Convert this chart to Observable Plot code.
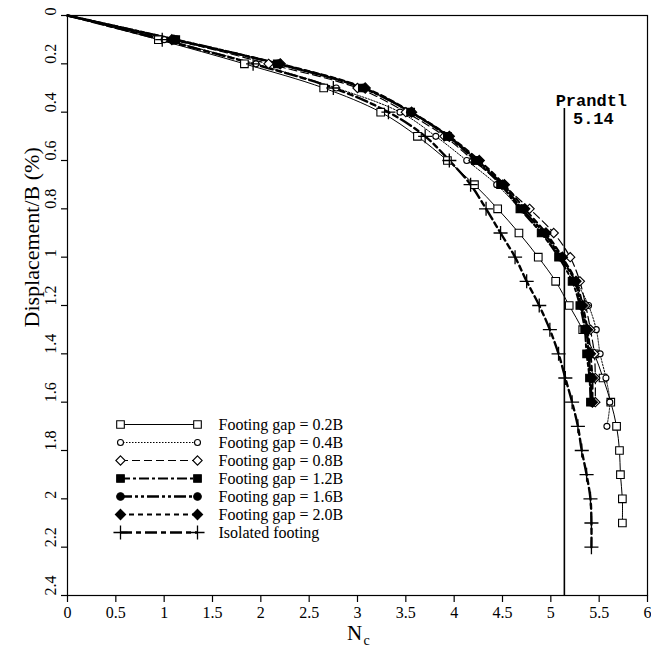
<!DOCTYPE html>
<html>
<head>
<meta charset="utf-8">
<script src="https://cdn.jsdelivr.net/npm/d3@7"></script>
<script src="https://cdn.jsdelivr.net/npm/@observablehq/plot@0.6"></script>
<style>
  html, body { margin: 0; padding: 0; background: #fff; }
  #wrap { position: relative; width: 651px; height: 649px; }
  #legend { position: absolute; left: 110px; top: 413px; }
</style>
</head>
<body>
<div id="wrap"><div id="chart"></div><div id="legend"></div></div>
<script>
// ---- data ----
const seriesNames = [
  "Footing gap = 0.2B", "Footing gap = 0.4B", "Footing gap = 0.8B",
  "Footing gap = 1.2B", "Footing gap = 1.6B", "Footing gap = 2.0B", "Isolated footing"
];
// displacement/B (%) values for each series
const disp02 = [0,0.1,0.2,0.3,0.4,0.5,0.6,0.7,0.8,0.9,1.0,1.1,1.2,1.3,1.4,1.5,1.6,1.7,1.8,1.9,2.0,2.1];
const nc02   = [0,0.94,1.83,2.65,3.24,3.62,3.93,4.21,4.45,4.67,4.87,5.05,5.19,5.33,5.45,5.54,5.62,5.68,5.71,5.72,5.74,5.74];
const disp04 = [0,0.1,0.2,0.3,0.4,0.5,0.6,0.7,0.8,0.9,1.0,1.1,1.2,1.3,1.4,1.5,1.6,1.7];
const nc04   = [0,1.0,1.95,2.78,3.44,3.81,4.13,4.44,4.68,4.9,5.1,5.26,5.39,5.47,5.51,5.57,5.61,5.58];
const disp08 = [0,0.1,0.2,0.3,0.4,0.5,0.6,0.7,0.8,0.9,1.0,1.1,1.2,1.3,1.4,1.5,1.6];
const nc08   = [0,1.1,2.08,3.0,3.5,3.9,4.2,4.5,4.78,5.03,5.2,5.3,5.36,5.41,5.45,5.46,5.46];
const disp12 = [0,0.1,0.2,0.3,0.4,0.5,0.6,0.7,0.8,0.9,1.0,1.1,1.2,1.3,1.4,1.5,1.6];
const nc12   = [0,1.12,2.17,3.05,3.55,3.93,4.22,4.48,4.68,4.9,5.08,5.22,5.3,5.35,5.37,5.4,5.41];
const disp16 = [0,0.1,0.2,0.3,0.4,0.5,0.6,0.7,0.8,0.9,1.0,1.1,1.2,1.3,1.4,1.5,1.6];
const nc16   = [0,1.12,2.18,3.06,3.55,3.94,4.24,4.5,4.7,4.93,5.1,5.25,5.31,5.37,5.39,5.41,5.42];
const disp20 = [0,0.1,0.2,0.3,0.4,0.5,0.6,0.7,0.8,0.9,1.0,1.1,1.2,1.3,1.4,1.5,1.6];
const nc20   = [0,1.08,2.2,3.08,3.56,3.95,4.26,4.52,4.73,4.95,5.12,5.26,5.33,5.38,5.41,5.43,5.43];
const dispIso = [0,0.1,0.2,0.3,0.4,0.5,0.6,0.7,0.8,0.9,1.0,1.1,1.2,1.3,1.4,1.5,1.6,1.7,1.8,1.9,2.0,2.1,2.2];
const ncIso   = [0,0.98,1.92,2.75,3.32,3.7,3.95,4.17,4.33,4.48,4.63,4.75,4.88,4.99,5.08,5.15,5.22,5.28,5.32,5.37,5.41,5.42,5.42];

const xTicks = [0,0.5,1,1.5,2,2.5,3,3.5,4,4.5,5,5.5,6];
const xTickLabels = ["0","0.5","1","1.5","2","2.5","3","3.5","4","4.5","5","5.5","6"];
const yTicks = [0,0.2,0.4,0.6,0.8,1,1.2,1.4,1.6,1.8,2,2.2,2.4];
const yTickLabels = ["0","0.2","0.4","0.6","0.8","1","1.2","1.4","1.6","1.8","2","2.2","2.4"];

const prandtlNc = 5.14;
const prandtlTop = 0.385;
const prandtlName = "Prandtl";
const prandtlValue = "5.14";

// ---- styles ----
const styles = [
  {symbol: "square",   fill: "white", r: 4.3, dash: null,            width: 1},
  {symbol: "circle",   fill: "white", r: 3,   dash: "1.5,1.5",       width: 1},
  {symbol: "diamond2", fill: "white", r: 4.2, dash: "8,4",           width: 1.2},
  {symbol: "square",   fill: "black", r: 4.3, dash: "10,3,3,3",      width: 2},
  {symbol: "circle",   fill: "black", r: 3.8, dash: "12,3,3,3,3,3",  width: 2.4},
  {symbol: "diamond2", fill: "black", r: 4.6, dash: "5,4",           width: 2},
  {symbol: "plus",     fill: "none",  r: 4.6, dash: "12,4,5,4",      width: 2.4}
];

const ncs = [nc02, nc04, nc08, nc12, nc16, nc20, ncIso];
const disps = [disp02, disp04, disp08, disp12, disp16, disp20, dispIso];
const tables = ncs.map((nc, i) => nc.map((v, j) => ({nc: v, d: disps[i][j], series: seriesNames[i]})));

const serif = "'Liberation Serif', 'Times New Roman', serif";
const mono = "'Liberation Mono', 'DejaVu Sans Mono', monospace";
const W = 651, H = 649;
const mL = 67, mR = 4, mT = 15, mB = 54;

const marks = [];
tables.forEach((t, i) => {
  const s = styles[i];
  marks.push(Plot.line(t, {x: "nc", y: "d", stroke: "black", strokeWidth: s.width,
    strokeDasharray: s.dash || undefined, curve: "catmull-rom"}));
});
tables.forEach((t, i) => {
  const s = styles[i];
  marks.push(Plot.dot(t.filter(p => p.d > 0), {x: "nc", y: "d", symbol: () => s.symbol, r: s.r,
    fill: s.fill === "none" ? "none" : s.fill, stroke: "black", strokeWidth: s.symbol === "plus" ? 1.3 : 1.1}));
});

marks.push(
  Plot.ruleX([prandtlNc], {x: d => d, y1: prandtlTop, y2: 2.4, stroke: "black", strokeWidth: 1.6}),
  Plot.text([prandtlName], {x: prandtlNc, y: prandtlTop, text: d => d, dx: 27, dy: -3, lineAnchor: "bottom",
    fontFamily: mono, fontWeight: "bold", fontSize: 17, fill: "black"}),
  Plot.text([prandtlValue], {x: prandtlNc, y: prandtlTop, text: d => d, dx: 29, dy: 3, lineAnchor: "top",
    fontFamily: mono, fontWeight: "bold", fontSize: 17, fill: "black"}),
  Plot.frame({stroke: "black", strokeWidth: 1.2}),
  // axes with outward ticks
  Plot.axisX({ticks: xTicks, tickSize: 7, tickPadding: 4, tickFormat: d => xTickLabels[xTicks.indexOf(d)],
    fontFamily: serif, fontSize: 16, stroke: "black", strokeWidth: 1.2, fill: "black", label: null}),
  Plot.axisY({ticks: yTicks, tickSize: 6, tickFormat: () => "", stroke: "black", strokeWidth: 1.2, label: null}),
  Plot.text(yTicks, {y: d => d, frameAnchor: "left", dx: -17, rotate: -90, text: (d, i) => yTickLabels[i],
    fontFamily: serif, fontSize: 16, fill: "black"}),
  // axis titles
  Plot.text(["Displacement/B (%)"], {frameAnchor: "left", dx: -36, dy: 22, rotate: -90, text: d => d,
    fontFamily: serif, fontSize: 22, fill: "black"}),
  Plot.text(["N"], {frameAnchor: "bottom", dx: -3, dy: 44, text: d => d, fontFamily: serif, fontSize: 21, fill: "black"}),
  Plot.text(["c"], {frameAnchor: "bottom", dx: 9, dy: 49, text: d => d, fontFamily: serif, fontSize: 14, fill: "black"})
);

const chart = Plot.plot({
  width: W, height: H,
  marginLeft: mL, marginRight: mR, marginTop: mT, marginBottom: mB,
  x: {domain: [0, 6]},
  y: {domain: [0, 2.4], reverse: true},
  style: {background: "white"},
  marks
});
document.getElementById("chart").appendChild(chart);

// ---- legend (own small plot overlaid inside the frame) ----
const lgMarks = [];
seriesNames.forEach((name, i) => {
  const s = styles[i];
  lgMarks.push(Plot.ruleY([name], {y: d => d, x1: 0, x2: 1, stroke: "black", strokeWidth: s.width,
    strokeDasharray: s.dash || undefined}));
  lgMarks.push(Plot.dot([0, 1], {x: d => d, y: () => name, symbol: () => s.symbol, r: s.r,
    fill: s.fill === "none" ? "none" : s.fill, stroke: "black", strokeWidth: s.symbol === "plus" ? 1.3 : 1.1}));
});
lgMarks.push(Plot.text(seriesNames, {x: 1, y: d => d, text: d => d, dx: 21, textAnchor: "start",
  fontFamily: serif, fontSize: 16, fill: "black"}));

const legend = Plot.plot({
  width: 280, height: 130,
  marginLeft: 10, marginRight: 193, marginTop: 10, marginBottom: 10,
  x: {domain: [0, 1], axis: null},
  y: {type: "point", domain: seriesNames, padding: 0, axis: null},
  style: {background: "transparent", overflow: "visible"},
  marks: lgMarks
});
document.getElementById("legend").appendChild(legend);
</script>
</body>
</html>
